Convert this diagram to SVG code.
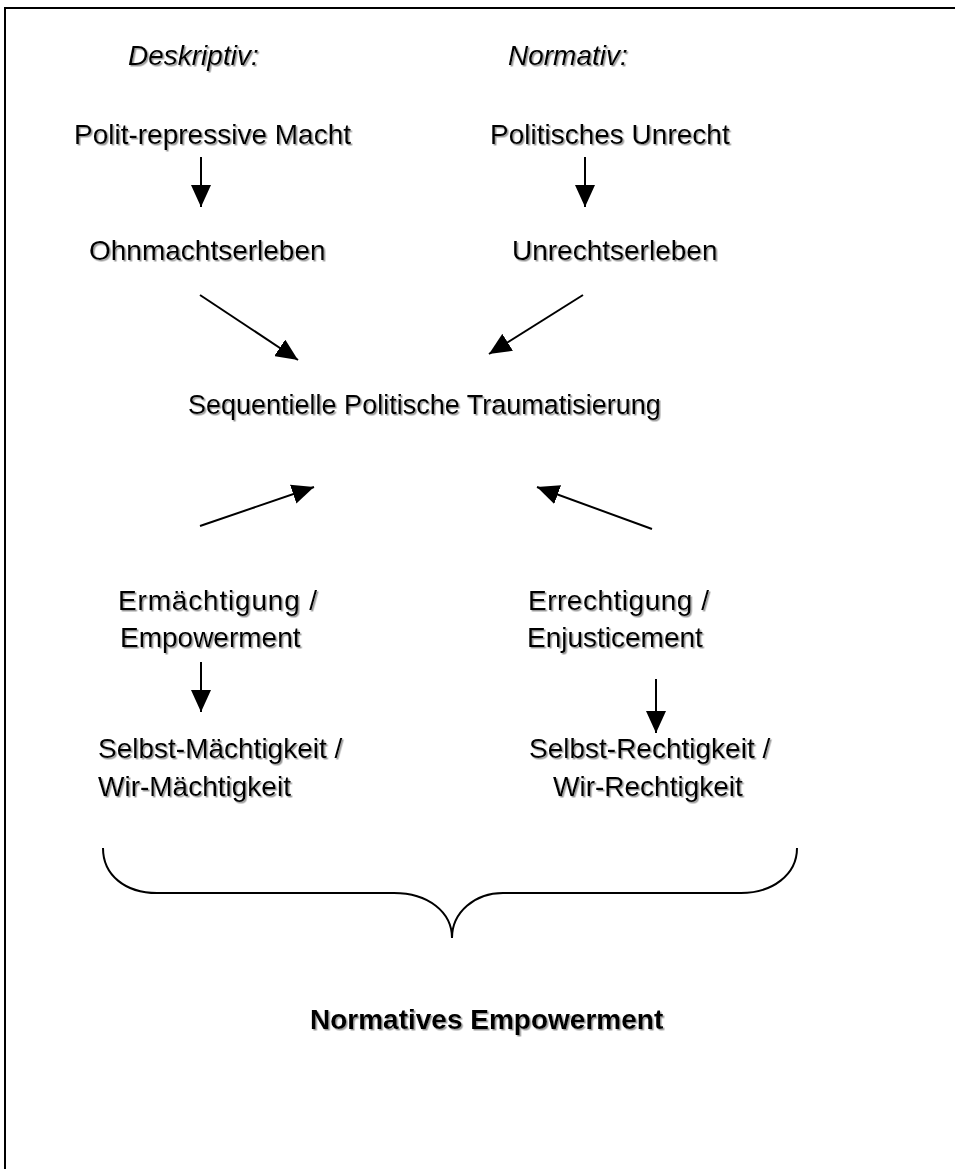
<svg xmlns="http://www.w3.org/2000/svg" width="955" height="1169" viewBox="0 0 955 1169">
<defs>
<marker id="ah" markerUnits="userSpaceOnUse" markerWidth="22" markerHeight="20" refX="22" refY="10" orient="auto">
<path d="M0,0 L22,10 L0,20 z" fill="#000"/>
</marker>
<filter id="sh" x="-5%" y="-30%" width="110%" height="160%">
<feDropShadow dx="1.5" dy="1.5" stdDeviation="0.7" flood-color="#808080" flood-opacity="0.8"/>
</filter>
<style>
text{font-family:"Liberation Sans",Arial,sans-serif;font-size:28px;fill:#000;filter:url(#sh)}
.it{font-style:italic}
.b{font-weight:bold}
.s{font-size:27px}
.c{stroke:#000;stroke-width:2;fill:none;marker-end:url(#ah)}
</style>
</defs>
<rect width="955" height="1169" fill="#fff"/>
<g id="frame" stroke="#000" stroke-width="2" fill="none">
<path d="M5,1169 L5,8 L955,8"/>
</g>
<g id="n-deskriptiv"><text class="it" x="128" y="65">Deskriptiv:</text></g>
<g id="n-normativ"><text class="it" x="508" y="65">Normativ:</text></g>
<g id="n-macht"><text x="74" y="144">Polit-repressive Macht</text></g>
<g id="n-unrecht"><text x="490" y="144">Politisches Unrecht</text></g>
<g id="n-ohnmacht"><text x="89" y="260">Ohnmachtserleben</text></g>
<g id="n-unrechtserleben"><text x="512" y="260">Unrechtserleben</text></g>
<g id="n-trauma"><text class="s" x="188" y="414">Sequentielle Politische Traumatisierung</text></g>
<g id="n-ermaechtigung"><text x="118" y="610" textLength="199" lengthAdjust="spacing">Ermächtigung /</text><text x="120" y="647">Empowerment</text></g>
<g id="n-errechtigung"><text x="528" y="610" textLength="181" lengthAdjust="spacing">Errechtigung /</text><text x="527" y="647">Enjusticement</text></g>
<g id="n-maechtigkeit"><text x="98" y="758">Selbst-Mächtigkeit /</text><text x="98" y="796">Wir-Mächtigkeit</text></g>
<g id="n-rechtigkeit"><text x="529" y="758">Selbst-Rechtigkeit /</text><text x="553" y="796">Wir-Rechtigkeit</text></g>
<g id="n-normatives"><text class="b" x="310" y="1029">Normatives Empowerment</text></g>
<g id="connectors">
<line class="c" x1="201" y1="157" x2="201" y2="207"/>
<line class="c" x1="585" y1="157" x2="585" y2="207"/>
<line class="c" x1="200" y1="295" x2="298" y2="360"/>
<line class="c" x1="583" y1="295" x2="489" y2="354"/>
<line class="c" x1="200" y1="526" x2="314" y2="487"/>
<line class="c" x1="652" y1="529" x2="537" y2="487"/>
<line class="c" x1="201" y1="662" x2="201" y2="712"/>
<line class="c" x1="656" y1="679" x2="656" y2="733"/>
<path id="brace" d="M103,848 C103,875 125,893 157,893 L394,893 C428,893 452,912 452,938 C452,912 475,893 503,893 L741,893 C772,893 797,875 797,848" stroke="#000" stroke-width="2" fill="none"/>
</g>
</svg>
